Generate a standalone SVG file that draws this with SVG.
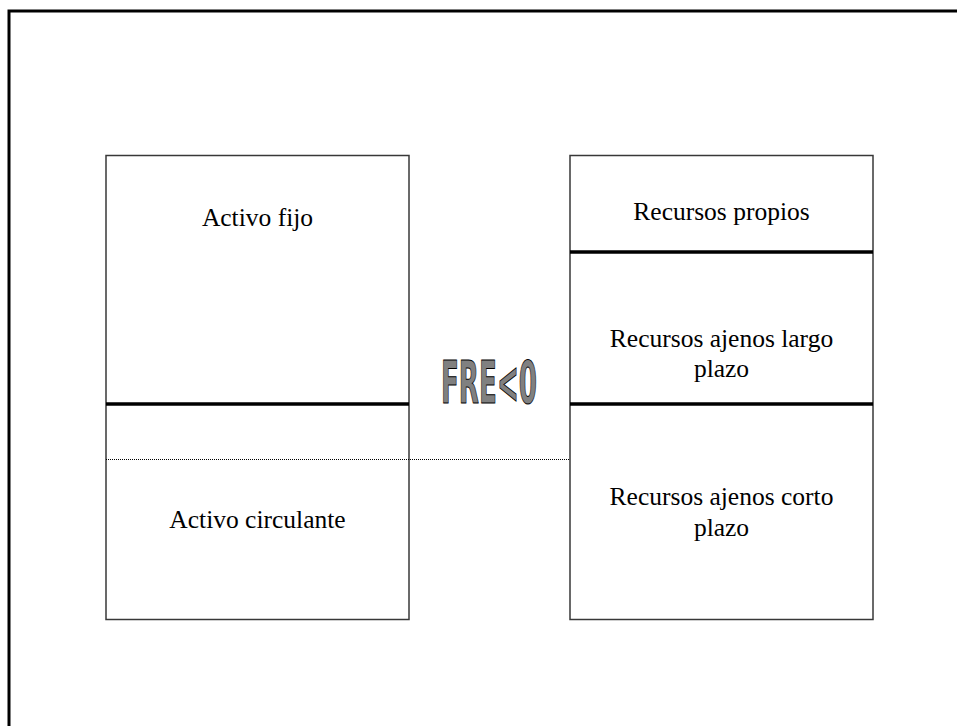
<svg xmlns="http://www.w3.org/2000/svg" width="957" height="726" viewBox="0 0 957 726">
<style>
.box{fill:#fff;stroke:#383838;stroke-width:1.5}
.thick{stroke:#000;stroke-width:3.5}
.t{font-family:"Liberation Serif","Times New Roman",serif;font-size:25.5px;fill:#000;text-anchor:middle}
.wa{font-family:"DejaVu Sans Condensed","DejaVu Sans",sans-serif;font-weight:bold;font-size:59px;fill:#808080;stroke:#000;stroke-width:1}
</style>
<rect width="957" height="726" fill="#fff"/>
<g id="frame">
<path d="M9 726 V11 H957" fill="none" stroke="#000" stroke-width="3"/>
</g>
<g id="activo">
<rect class="box" x="106" y="155.5" width="303" height="464"/>
<line class="thick" x1="106" y1="404" x2="409" y2="404"/>
<text class="t" x="257.5" y="226">Activo fijo</text>
<text class="t" x="257.5" y="528">Activo circulante</text>
</g>
<g id="pasivo">
<rect class="box" x="570" y="155.5" width="303" height="464"/>
<line class="thick" x1="570" y1="252" x2="873" y2="252"/>
<line class="thick" x1="570" y1="404" x2="873" y2="404"/>
<text class="t" x="721.5" y="220">Recursos propios</text>
<text class="t" x="721.5" y="347">Recursos ajenos largo</text>
<text class="t" x="721.5" y="377">plazo</text>
<text class="t" x="721.5" y="505">Recursos ajenos corto</text>
<text class="t" x="721.5" y="536">plazo</text>
</g>
<g id="connectors">
<line x1="106" y1="459.5" x2="569" y2="459.5" stroke="#000" stroke-width="1" stroke-dasharray="1,1"/>
</g>
<g id="fre">
<text class="wa" x="441" y="403" textLength="96" lengthAdjust="spacingAndGlyphs">FRE&lt;0</text>
</g>
</svg>
